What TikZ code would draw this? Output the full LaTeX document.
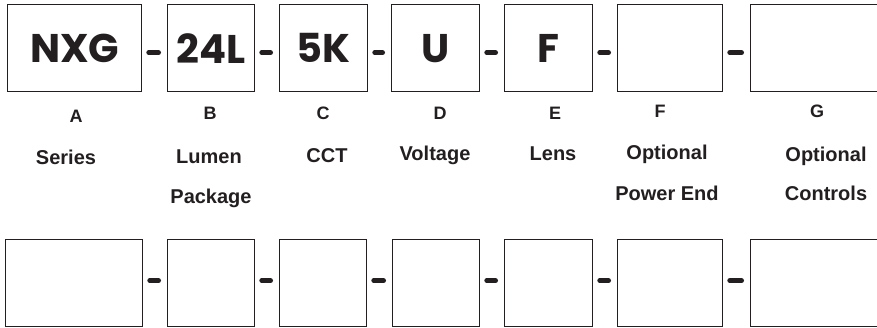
\documentclass[tikz,border=0pt]{standalone}
\usepackage{fontspec}
\setmainfont{Liberation Sans}
\newfontfamily\codefont{Poppins}
\usetikzlibrary{positioning,calc}
\definecolor{InkBlack}{RGB}{35,31,32}
\tikzset{
  codebox/.style={draw=InkBlack,line width=1.3pt,anchor=north west,inner sep=0pt,
    minimum height=87pt,text=InkBlack,font=\codefont\bfseries\fontsize{40}{40}\selectfont},
  hyphen/.style={draw=InkBlack,line width=5pt,line cap=round},
  letter/.style={anchor=base,text=InkBlack,font=\bfseries\fontsize{18}{18}\selectfont},
  caption/.style={anchor=base,text=InkBlack,font=\bfseries\fontsize{20}{20}\selectfont},
}

\begin{document}
\begin{tikzpicture}[x=1pt,y=-1pt]
        \clip (0,0) rectangle (877,328);
        % top row, filled in
        \foreach \n/\x/\w/\t in {A/7/134/NXG,B/167/87/24L,C/279/88/5K,D/391/88/U,
            E/504/88/F,F/617/105/{},G/750/140/{}}
          \node[codebox,minimum width=\w pt] (t\n) at (\x,4) {\t};
        \foreach \p/\q in {A/B,B/C,C/D,D/E,E/F,F/G}
          \draw[hyphen,shorten <=6.5pt,shorten >=8.5pt]
            ([yshift=-4.5pt]t\p.east) -- ([yshift=-4.5pt]t\q.west);
        % letters and captions
        \foreach \n/\x/\y in {A/76/123,B/210/120,C/323/120,D/440/120,E/555/120,F/660/118,G/817/118}
          \node[letter] (l\n) at (\x,\y) {\n};
        \foreach \n/\x/\y/\s in {A1/66/165/Series,B1/209/164/Lumen,B2/211/204/Package,
            C1/327/163/CCT,D1/435/161/Voltage,E1/553/161/Lens,F1/667/160/Optional,
            F2/667/201/Power End,G1/826/162/Optional,G2/826/201/Controls}
          \node[caption] (c\n) at (\x,\y) {\s};
        % bottom row, blank
        \foreach \n/\x/\w in {A/5/137,B/167/87,C/279/87,D/392/87,E/504/88,F/617/105,G/750/140}
          \node[codebox,minimum width=\w pt] (b\n) at (\x,239) {};
        \foreach \p/\q in {A/B,B/C,C/D,D/E,E/F,F/G}
          \draw[hyphen,shorten <=6.5pt,shorten >=8.5pt]
            ([yshift=2.5pt]b\p.east) -- ([yshift=2.5pt]b\q.west);
      \end{tikzpicture}
\end{document}
